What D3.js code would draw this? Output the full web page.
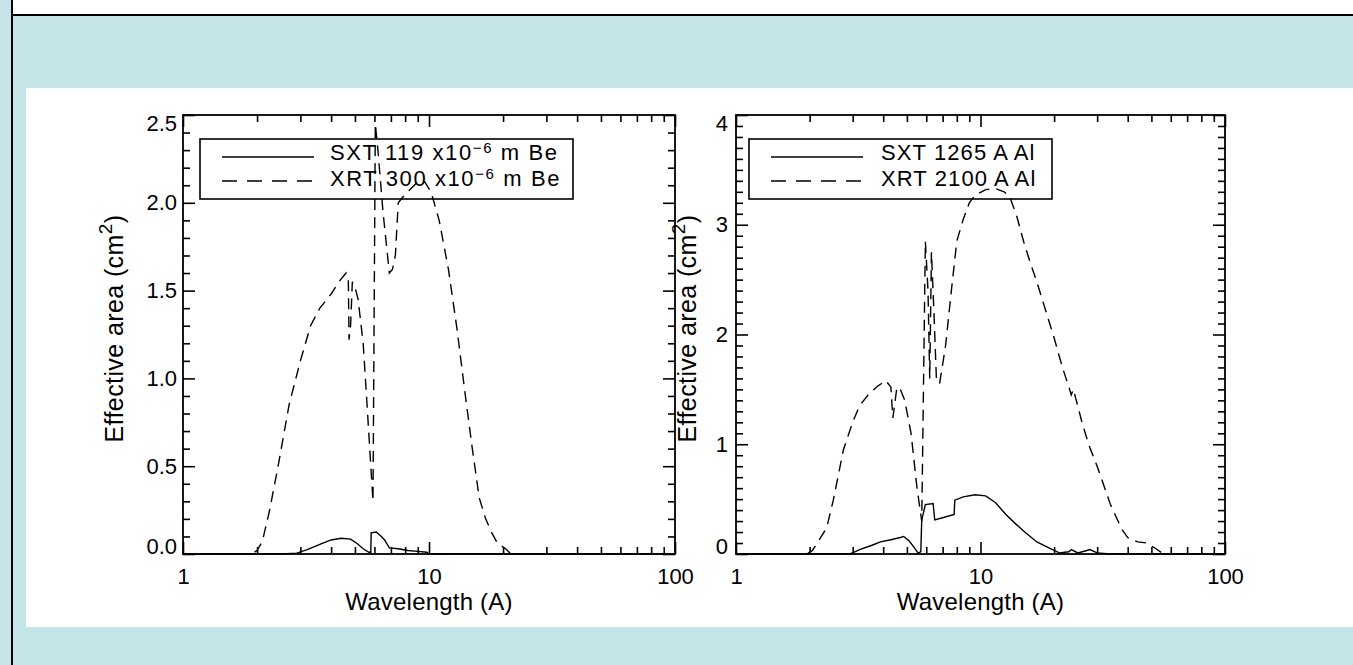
<!DOCTYPE html>
<html><head><meta charset="utf-8">
<script src="https://cdn.jsdelivr.net/npm/d3@7"></script>
<style>
html,body{margin:0;padding:0;background:#c5e4e7;overflow:hidden;}
svg{display:block;}
text{font-family:"Liberation Sans",Arial,Helvetica,sans-serif;fill:#000;}
</style></head><body><svg id="c" width="1353" height="665"></svg>
<script>
// ---------- data ----------
const xTickValues = [1, 10, 100];
const xTickLabels = ["1", "10", "100"];
const xMinorValues = [2,3,4,5,6,7,8,9,20,30,40,50,60,70,80,90];

const beYTicks = [0, 0.5, 1.0, 1.5, 2.0, 2.5];
const beYLabels = ["0.0", "0.5", "1.0", "1.5", "2.0", "2.5"];
const alYTicks = [0, 1, 2, 3, 4];
const alYLabels = ["0", "1", "2", "3", "4"];

// Left panel: Be filters
const sxtBeWl   = [1, 2.5, 2.9, 3.2, 3.6, 4.0, 4.4, 4.8, 5.1, 5.4, 5.7, 5.8, 5.82, 6.1, 6.4, 6.6, 6.9, 7.5, 8.2, 9.0, 9.8, 10.0, 100];
const sxtBeArea = [0, 0, 0.005, 0.025, 0.055, 0.08, 0.09, 0.085, 0.06, 0.03, 0.01, 0.01, 0.12, 0.125, 0.1, 0.08, 0.035, 0.03, 0.02, 0.015, 0.01, 0, 0];

const xrtBeWl   = [1, 1.9, 2.0, 2.1, 2.25, 2.45, 2.7, 3.0, 3.3, 3.6, 4.0, 4.3, 4.6, 4.7, 4.73, 4.8, 4.88, 5.0, 5.15, 5.4, 5.6, 5.8, 5.92, 6.05, 6.2, 6.5, 6.9, 7.1, 7.3, 7.5, 7.8, 8.3, 9.0, 9.6, 10.2, 11, 12, 13, 14, 15, 16, 17, 18, 19, 19.5, 20.5, 21.5, 100];
const xrtBeArea = [0, 0, 0.02, 0.07, 0.25, 0.52, 0.85, 1.1, 1.3, 1.4, 1.48, 1.55, 1.6, 1.56, 1.22, 1.3, 1.55, 1.52, 1.45, 1.2, 0.85, 0.5, 0.3, 2.45, 2.3, 1.95, 1.6, 1.62, 1.7, 2.0, 2.03, 2.07, 2.12, 2.12, 2.06, 1.9, 1.62, 1.28, 0.92, 0.6, 0.32, 0.2, 0.12, 0.06, 0.05, 0.03, 0, 0];

// Right panel: Al filters
const sxtAlWl   = [1, 2.9, 3.0, 3.2, 3.6, 3.9, 4.3, 4.7, 4.85, 5.1, 5.35, 5.55, 5.7, 5.75, 5.95, 6.4, 6.5, 7.0, 7.8, 7.85, 8.5, 9.5, 10.5, 11.5, 12.7, 14, 15, 17, 19.5, 21, 23, 23.5, 25, 27, 28, 30, 34, 100];
const sxtAlArea = [0, 0, 0.01, 0.04, 0.08, 0.11, 0.13, 0.15, 0.16, 0.12, 0.06, 0.01, 0.02, 0.31, 0.45, 0.46, 0.31, 0.33, 0.36, 0.49, 0.52, 0.54, 0.53, 0.47, 0.36, 0.27, 0.21, 0.11, 0.045, 0.01, 0.02, 0.04, 0.01, 0.03, 0.04, 0.01, 0, 0];

const xrtAlWl   = [1, 1.95, 2.05, 2.15, 2.35, 2.5, 2.75, 3.0, 3.2, 3.5, 3.8, 4.1, 4.3, 4.38, 4.45, 4.55, 4.7, 4.9, 5.2, 5.5, 5.75, 5.95, 6.1, 6.2, 6.3, 6.45, 6.6, 6.8, 7.2, 7.6, 8.0, 8.5, 9, 9.5, 10.5, 11.5, 12.5, 13.2, 14.1, 15, 16, 17, 18, 19, 20, 21, 22, 23, 23.5, 24, 24.5, 25, 26, 27, 28, 30, 32, 34, 36, 38, 40, 44, 48, 52, 56, 100];
const xrtAlArea = [0, 0, 0.03, 0.1, 0.24, 0.49, 0.95, 1.2, 1.35, 1.46, 1.53, 1.58, 1.52, 1.24, 1.35, 1.52, 1.5, 1.4, 1.1, 0.6, 0.3, 2.85, 2.4, 1.6, 2.75, 2.2, 1.6, 1.55, 1.9, 2.4, 2.85, 3.05, 3.2, 3.27, 3.32, 3.33, 3.3, 3.25, 3.07, 2.85, 2.65, 2.48, 2.3, 2.13, 1.97, 1.8, 1.65, 1.52, 1.45, 1.5, 1.42, 1.35, 1.2, 1.08, 0.97, 0.8, 0.62, 0.45, 0.33, 0.22, 0.15, 0.11, 0.1, 0.05, 0, 0];

// ---------- layout ----------
const svg = d3.select("#c");
svg.append("rect").attr("x",0).attr("y",0).attr("width",1353).attr("height",665).attr("fill","#c5e4e7");
svg.append("rect").attr("x",12).attr("y",0).attr("width",1341).attr("height",15).attr("fill","#fff");
svg.append("line").attr("x1",12).attr("x2",12).attr("y1",0).attr("y2",665).attr("stroke","#000").attr("stroke-width",2);
svg.append("line").attr("x1",12).attr("x2",1353).attr("y1",15).attr("y2",15).attr("stroke","#000").attr("stroke-width",2);
svg.append("rect").attr("x",26).attr("y",88).attr("width",1327).attr("height",539).attr("fill","#fff");

const TOP = 115, BOT = 554;

function zip(a, b) { return a.map((v, i) => [v, b[i]]); }

function panel(o) {
  const x = d3.scaleLog().domain([1, 100]).range([o.left, o.right]);
  const y = d3.scaleLinear().domain([0, o.ymax]).range([BOT, TOP]);
  const g = svg.append("g");
  const yMinor = d3.range(0, o.ymax + 1e-9, 0.1).map(v => +v.toFixed(2)).filter(v => !o.yTicks.some(t => Math.abs(t - v) < 1e-6));

  function style(sel) {
    sel.select(".domain").remove();
    sel.selectAll("line").attr("stroke", "#000").attr("stroke-width", 1.6);
    sel.attr("font-family", "'Liberation Sans', Arial, sans-serif").attr("font-size", 22);
  }
  // bottom
  g.append("g").attr("transform", `translate(0,${BOT})`)
    .call(d3.axisBottom(x).tickValues(xTickValues).tickSizeInner(-12).tickSizeOuter(0).tickPadding(14)
      .tickFormat((d, i) => xTickLabels[i])).call(style);
  g.append("g").attr("transform", `translate(0,${BOT})`)
    .call(d3.axisBottom(x).tickValues(xMinorValues).tickSizeInner(-7).tickSizeOuter(0).tickFormat("")).call(style);
  // top
  g.append("g").attr("transform", `translate(0,${TOP})`)
    .call(d3.axisTop(x).tickValues(xTickValues).tickSizeInner(-12).tickSizeOuter(0).tickFormat("")).call(style);
  g.append("g").attr("transform", `translate(0,${TOP})`)
    .call(d3.axisTop(x).tickValues(xMinorValues).tickSizeInner(-7).tickSizeOuter(0).tickFormat("")).call(style);
  // left
  const ly = g.append("g").attr("transform", `translate(${o.left},0)`)
    .call(d3.axisLeft(y).tickValues(o.yTicks).tickSizeInner(-12).tickSizeOuter(0).tickPadding(o.ypad)
      .tickFormat((d, i) => o.yLabels[i])).call(style);
  ly.selectAll("text").attr("y", d => {
    const yy = y(d);
    if (yy - 8 < TOP) return TOP + 8 - yy;
    if (yy + 8 > BOT) return BOT - 8 - yy;
    return 0;
  });
  g.append("g").attr("transform", `translate(${o.left},0)`)
    .call(d3.axisLeft(y).tickValues(yMinor).tickSizeInner(-7).tickSizeOuter(0).tickFormat("")).call(style);
  // right
  g.append("g").attr("transform", `translate(${o.right},0)`)
    .call(d3.axisRight(y).tickValues(o.yTicks).tickSizeInner(-12).tickSizeOuter(0).tickFormat("")).call(style);
  g.append("g").attr("transform", `translate(${o.right},0)`)
    .call(d3.axisRight(y).tickValues(yMinor).tickSizeInner(-7).tickSizeOuter(0).tickFormat("")).call(style);
  // frame
  g.append("rect").attr("x", o.left).attr("y", TOP).attr("width", o.right - o.left).attr("height", BOT - TOP)
    .attr("fill", "none").attr("stroke", "#000").attr("stroke-width", 1.8);

  // curves
  const line = d3.line().x(d => x(d[0])).y(d => y(d[1]));
  g.append("path").datum(zip(o.sxtWl, o.sxtArea)).attr("d", line)
    .attr("fill", "none").attr("stroke", "#000").attr("stroke-width", 1.4);
  g.append("path").datum(zip(o.xrtWl, o.xrtArea)).attr("d", line)
    .attr("fill", "none").attr("stroke", "#000").attr("stroke-width", 1.4).attr("stroke-dasharray", "11,7");

  // axis titles
  g.append("text").attr("x", (o.left + o.right) / 2).attr("y", 610).attr("text-anchor", "middle")
    .attr("font-size", 24).attr("letter-spacing", 0.2).text("Wavelength (A)");
  const yt = g.append("text").attr("transform", `translate(${o.titleX},${(TOP + BOT) / 2 - 6}) rotate(-90)`)
    .attr("text-anchor", "middle").attr("font-size", 25).attr("letter-spacing", 0.4);
  yt.append("tspan").text("Effective area (cm");
  yt.append("tspan").attr("dy", -11).attr("font-size", 19).text("2");
  yt.append("tspan").attr("dy", 11).text(")");

  // legend
  const L = o.legend;
  g.append("rect").attr("x", L.x0).attr("y", 139).attr("width", L.x1 - L.x0).attr("height", 60)
    .attr("fill", "none").attr("stroke", "#000").attr("stroke-width", 1.6);
  g.append("line").attr("x1", L.x0 + 22).attr("x2", L.x0 + 114).attr("y1", 157).attr("y2", 157)
    .attr("stroke", "#000").attr("stroke-width", 1.4);
  g.append("line").attr("x1", L.x0 + 22).attr("x2", L.x0 + 114).attr("y1", 181).attr("y2", 181)
    .attr("stroke", "#000").attr("stroke-width", 1.4).attr("stroke-dasharray", "15,10");
  L.lines.forEach((parts, i) => {
    const t = g.append("text").attr("x", L.tx).attr("y", 160 + i * 26).attr("font-size", 22)
      .attr("letter-spacing", L.ls);
    parts.forEach(p => {
      const s = t.append("tspan").text(p.t);
      if (p.sup) s.attr("font-size", 15).attr("dy", -7);
      if (p.down) s.attr("dy", 7);
    });
  });
}

panel({
  left: 183, right: 675, ymax: 2.5, yTicks: beYTicks, yLabels: beYLabels, ypad: 6, titleX: 123,
  sxtWl: sxtBeWl, sxtArea: sxtBeArea, xrtWl: xrtBeWl, xrtArea: xrtBeArea,
  legend: { x0: 200, x1: 573, tx: 330, ls: 1.6, lines: [
    [{t: "SXT 119 x10"}, {t: "\u22126", sup: true}, {t: " m Be", down: true}],
    [{t: "XRT 300 x10"}, {t: "\u22126", sup: true}, {t: " m Be", down: true}]
  ]}
});
panel({
  left: 736, right: 1225, ymax: 4, yTicks: alYTicks, yLabels: alYLabels, ypad: 8, titleX: 696,
  sxtWl: sxtAlWl, sxtArea: sxtAlArea, xrtWl: xrtAlWl, xrtArea: xrtAlArea,
  legend: { x0: 749, x1: 1052, tx: 881, ls: 1.1, lines: [
    [{t: "SXT 1265 A Al"}],
    [{t: "XRT 2100 A Al"}]
  ]}
});
</script></body></html>
